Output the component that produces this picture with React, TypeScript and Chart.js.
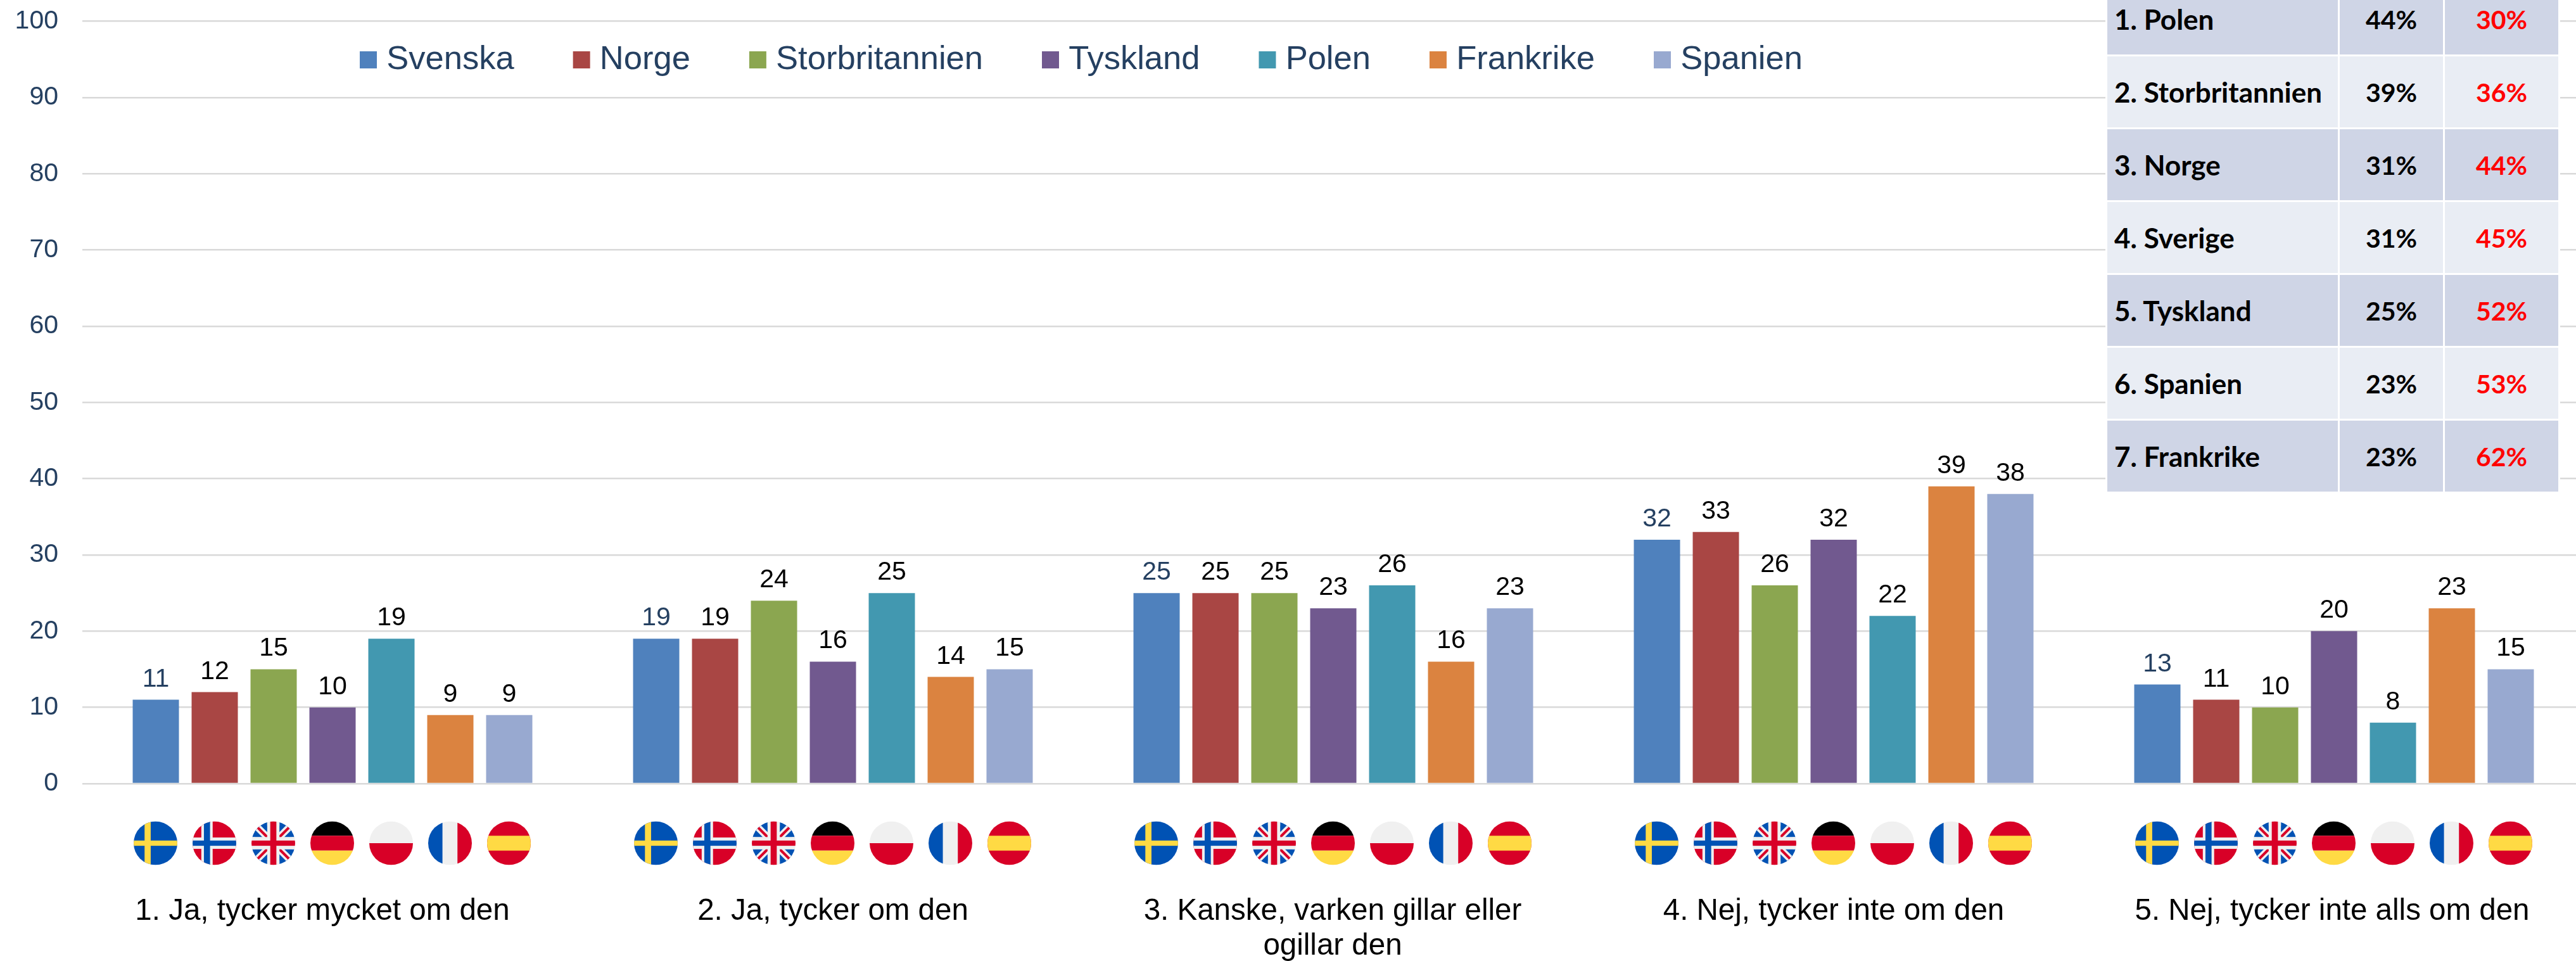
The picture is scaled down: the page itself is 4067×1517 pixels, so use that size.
import React, { useEffect, useRef } from "react";
import { Chart, registerables } from "chart.js";

Chart.register(...registerables);

const categories: (string | string[])[] = [
  "1. Ja, tycker mycket om den",
  "2. Ja, tycker om den",
  ["3. Kanske, varken gillar eller", "ogillar den"],
  "4. Nej, tycker inte om den",
  "5. Nej, tycker inte alls om den",
];
const seriesNames = ["Svenska", "Norge", "Storbritannien", "Tyskland", "Polen", "Frankrike", "Spanien"];
const svenska = [11, 19, 25, 32, 13];
const norge = [12, 19, 25, 33, 11];
const storbritannien = [15, 24, 25, 26, 10];
const tyskland = [10, 16, 23, 32, 20];
const polen = [19, 25, 26, 22, 8];
const frankrike = [9, 14, 16, 39, 23];
const spanien = [9, 15, 23, 38, 15];
const seriesValues = [svenska, norge, storbritannien, tyskland, polen, frankrike, spanien];
const seriesColors = ["#4F81BD", "#A94644", "#8BA650", "#71598F", "#4298B0", "#DB8340", "#98A9D0"];
const flagCodes = ["SE", "NO", "GB", "DE", "PL", "FR", "ES"];

const tableCountries = ["1. Polen", "2. Storbritannien", "3. Norge", "4. Sverige", "5. Tyskland", "6. Spanien", "7. Frankrike"];
const tableYes = ["44%", "39%", "31%", "31%", "25%", "23%", "23%"];
const tableNo = ["30%", "36%", "44%", "45%", "52%", "53%", "62%"];

const DARK = "#254061";
const BLUE = "#0052B4";
const YELLOW = "#FFDA44";
const RED = "#D80027";
const WHITE = "#F0F0F0";

function drawFlag(ctx: CanvasRenderingContext2D, code: string, cx: number, cy: number, r: number) {
  const d = r * 2;
  const l = cx - r;
  const t = cy - r;
  const rect = (x0: number, y0: number, x1: number, y1: number, c: string) => {
    ctx.fillStyle = c;
    ctx.fillRect(l + x0 * d, t + y0 * d, (x1 - x0) * d, (y1 - y0) * d);
  };
  const diag = (x0: number, y0: number, x1: number, y1: number, c: string, w: number) => {
    ctx.strokeStyle = c;
    ctx.lineWidth = w * d;
    ctx.beginPath();
    ctx.moveTo(l + x0 * d, t + y0 * d);
    ctx.lineTo(l + x1 * d, t + y1 * d);
    ctx.stroke();
  };
  ctx.save();
  ctx.beginPath();
  ctx.arc(cx, cy, r, 0, Math.PI * 2);
  ctx.clip();
  if (code === "SE") {
    rect(0, 0, 1, 1, BLUE);
    rect(0.25, 0, 0.39, 1, YELLOW);
    rect(0, 0.44, 1, 0.56, YELLOW);
  } else if (code === "NO") {
    rect(0, 0, 1, 1, RED);
    rect(0.2, 0, 0.46, 1, WHITE);
    rect(0, 0.37, 1, 0.63, WHITE);
    rect(0.26, 0, 0.4, 1, BLUE);
    rect(0, 0.44, 1, 0.56, BLUE);
  } else if (code === "GB") {
    rect(0, 0, 1, 1, WHITE);
    rect(0.08, 0, 0.36, 0.36, BLUE);
    rect(0.64, 0, 0.92, 0.36, BLUE);
    rect(0.08, 0.64, 0.36, 1, BLUE);
    rect(0.64, 0.64, 0.92, 1, BLUE);
    rect(0, 0.1, 1, 0.36, BLUE);
    rect(0, 0.64, 1, 0.9, BLUE);
    diag(0, 0, 1, 1, WHITE, 0.16);
    diag(1, 0, 0, 1, WHITE, 0.16);
    diag(0.1, 0.1, 0.42, 0.42, RED, 0.06);
    diag(0.9, 0.1, 0.58, 0.42, RED, 0.06);
    diag(0.1, 0.9, 0.42, 0.58, RED, 0.06);
    diag(0.9, 0.9, 0.58, 0.58, RED, 0.06);
    rect(0.36, 0, 0.64, 1, WHITE);
    rect(0, 0.36, 1, 0.64, WHITE);
    rect(0.43, 0, 0.57, 1, RED);
    rect(0, 0.44, 1, 0.56, RED);
  } else if (code === "DE") {
    rect(0, 0, 1, 0.33, "#000000");
    rect(0, 0.33, 1, 0.67, RED);
    rect(0, 0.67, 1, 1, YELLOW);
  } else if (code === "PL") {
    rect(0, 0, 1, 0.5, WHITE);
    rect(0, 0.5, 1, 1, RED);
  } else if (code === "FR") {
    rect(0, 0, 0.33, 1, BLUE);
    rect(0.33, 0, 0.67, 1, WHITE);
    rect(0.67, 0, 1, 1, RED);
  } else {
    rect(0, 0, 1, 1, RED);
    rect(0, 0.33, 1, 0.67, YELLOW);
  }
  ctx.restore();
}

function legendSwatch(color: string) {
  const c = document.createElement("canvas");
  c.width = 54;
  c.height = 27;
  const g = c.getContext("2d")!;
  g.fillStyle = color;
  g.fillRect(19, 0, 27, 27);
  return c;
}

const noPadding = (s: any) => {
  s.paddingLeft = 0;
  s.paddingRight = 0;
  s.paddingTop = 0;
  s.paddingBottom = 0;
};

const labelShift = [-16, 0, -1, 0, -3];

const overlayPlugin = {
  id: "overlay",
  beforeDraw(chart: any) {
    const lg = chart.legend;
    lg.left = 475;
    lg.right = 4080;
    lg.top = -25;
    lg.bottom = 200;
    lg.width = lg.right - lg.left;
    lg.height = lg.bottom - lg.top;
    chart.scales.x.getLabelItems().forEach((item: any, i: number) => {
      const t = item.options.translation;
      item.options.translation = [t[0] + labelShift[i], t[1]];
    });
  },
  afterDatasetsDraw(chart: any) {
    const ctx: CanvasRenderingContext2D = chart.ctx;
    const base = chart.scales.y.getPixelForValue(0);
    chart.data.datasets.forEach((ds: any, i: number) => {
      const meta = chart.getDatasetMeta(i);
      meta.data.forEach((bar: any, j: number) => {
        ctx.save();
        ctx.font = '41px "Liberation Sans"';
        ctx.fillStyle = i === 0 ? DARK : "#000000";
        ctx.textAlign = "center";
        ctx.textBaseline = "alphabetic";
        ctx.fillText(String(ds.data[j]), bar.x, bar.y - 21);
        ctx.restore();
        drawFlag(ctx, flagCodes[i], bar.x - 0.5, base + 94, 34.5);
      });
    });
  },
};

export default function App() {
  const ref = useRef<HTMLCanvasElement>(null);
  useEffect(() => {
    const chart = new Chart(ref.current!, {
      type: "bar",
      data: {
        labels: categories as any,
        datasets: seriesNames.map((name, i) => ({
          label: name,
          data: seriesValues[i],
          backgroundColor: seriesColors[i],
          categoryPercentage: 0.824,
          barPercentage: 0.785,
        })),
      },
      options: {
        responsive: false,
        animation: false,
        layout: { padding: { top: 32.5, left: 0, right: 0, bottom: 0 } },
        plugins: {
          tooltip: { enabled: false },
          legend: {
            display: true,
            position: "top",
            align: "start",
            maxHeight: 1,
            labels: {
              usePointStyle: true,
              boxWidth: 16,
              boxHeight: 27,
              padding: 93,
              color: DARK,
              font: { family: '"Liberation Sans"', size: 52.5 },
              generateLabels: (c: any) =>
                c.data.datasets.map((d: any, i: number) => ({
                  text: d.label,
                  datasetIndex: i,
                  pointStyle: legendSwatch(seriesColors[i]),
                  fontColor: DARK,
                  lineWidth: 0,
                  hidden: false,
                })),
            },
          },
        },
        scales: {
          x: {
            afterFit: (s: any) => {
              s.height = 280;
              noPadding(s);
            },
            grid: { display: false },
            border: { display: false },
            ticks: {
              autoSkip: false,
              maxRotation: 0,
              minRotation: 0,
              padding: 166,
              color: "#000000",
              font: { family: '"Liberation Sans"', size: 47.5, lineHeight: 1.17 },
            },
          },
          y: {
            min: 0,
            max: 100,
            afterFit: (s: any) => {
              s.width = 130;
              noPadding(s);
            },
            grid: { color: "#D9D9D9", lineWidth: 2.5, drawTicks: false },
            border: { display: false },
            ticks: {
              stepSize: 10,
              padding: 38,
              color: DARK,
              font: { family: '"Liberation Sans"', size: 41 },
            },
          },
        },
      } as any,
      plugins: [overlayPlugin as any],
    });
    return () => chart.destroy();
  }, []);

  const cell: React.CSSProperties = {
    padding: 0,
    verticalAlign: "middle",
    height: 112,
    overflow: "hidden",
  };
  return (
    <div style={{ position: "fixed", left: 0, top: 0, width: 4067, height: 1517, overflow: "hidden", background: "#FFFFFF" }}>
      <canvas ref={ref} width={4080} height={1517} style={{ display: "block" }} />
      <table
        style={{
          position: "absolute",
          left: 3324,
          top: -29,
          borderCollapse: "separate",
          borderSpacing: 3,
          background: "#FFFFFF",
          tableLayout: "fixed",
          width: 718,
          font: 'bold 41px Lato, "Liberation Sans", sans-serif',
          color: "#000000",
        }}
      >
        <colgroup>
          <col style={{ width: 364 }} />
          <col style={{ width: 163 }} />
          <col style={{ width: 179 }} />
        </colgroup>
        <tbody>
          {tableCountries.map((name, i) => {
            const bg = i % 2 === 0 ? "#CFD5E6" : "#E9EDF4";
            return (
              <tr key={name}>
                <td style={{ ...cell, background: bg, paddingLeft: 11, whiteSpace: "nowrap", fontSize: 44 }}>{name}</td>
                <td style={{ ...cell, background: bg, textAlign: "center" }}>{tableYes[i]}</td>
                <td style={{ ...cell, background: bg, textAlign: "center", color: "#FF0000" }}>{tableNo[i]}</td>
              </tr>
            );
          })}
        </tbody>
      </table>
    </div>
  );
}
